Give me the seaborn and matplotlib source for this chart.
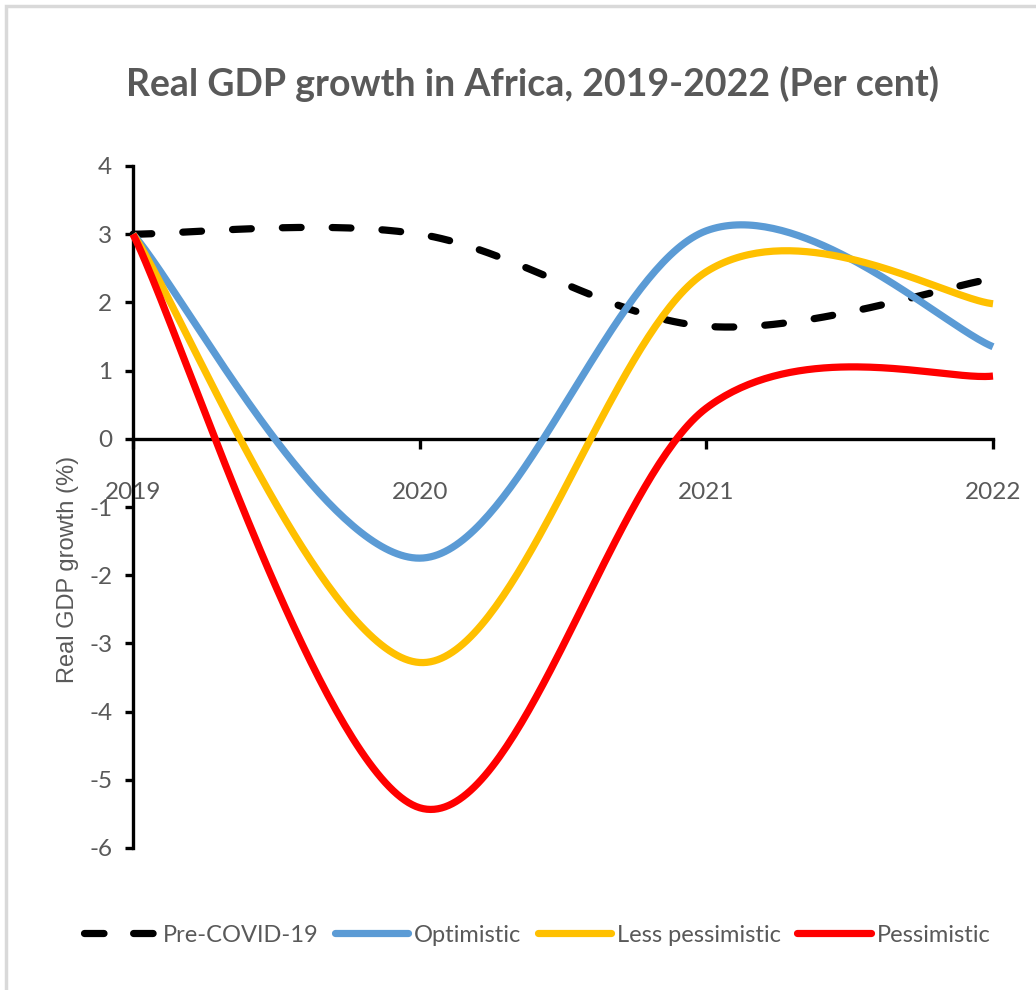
import numpy as np
import pandas as pd
import matplotlib
matplotlib.use("Agg")
import matplotlib.pyplot as plt
from matplotlib.lines import Line2D
from matplotlib.patches import Rectangle
import seaborn as sns

# Data: real GDP growth in Africa (per cent)
years = [2019, 2020, 2021, 2022]
pre_covid = [3.0, 3.0, 1.65, 2.35]
optimistic = [3.0, -1.75, 3.05, 1.35]
less_pessimistic = [3.0, -3.28, 2.45, 1.98]
pessimistic = [3.0, -5.41, 0.45, 0.92]

series_names = ["Pre-COVID-19", "Optimistic", "Less pessimistic", "Pessimistic"]
series_values = [pre_covid, optimistic, less_pessimistic, pessimistic]
colors = ["#000000", "#5B9BD5", "#FFC000", "#FF0000"]
y_ticks = [-6, -5, -4, -3, -2, -1, 0, 1, 2, 3, 4]

TEXT = "#595959"
BODY = ["Lato", "DejaVu Sans"]


def smooth_curve(xs, ys, n=80):
    """Spreadsheet-style smoothed line: cubic Bezier segments whose control
    points follow the neighbouring points (Catmull-Rom tangents)."""
    pts = np.column_stack([xs, ys]).astype(float)
    out = []
    t = np.linspace(0, 1, n)[:, None]
    for i in range(len(pts) - 1):
        p0 = pts[i - 1] if i > 0 else pts[i]
        p1, p2 = pts[i], pts[i + 1]
        p3 = pts[i + 2] if i + 2 < len(pts) else pts[i + 1]
        c1 = p1 + (p2 - p0) / 6
        c2 = p2 - (p3 - p1) / 6
        seg = (1 - t) ** 3 * p1 + 3 * (1 - t) ** 2 * t * c1 + 3 * (1 - t) * t ** 2 * c2 + t ** 3 * p2
        out.append(seg if i == 0 else seg[1:])
    return np.vstack(out)


frames = []
for name, vals in zip(series_names, series_values):
    c = smooth_curve(years, vals)
    frames.append(pd.DataFrame({"year": c[:, 0], "growth": c[:, 1], "scenario": name}))
df = pd.concat(frames, ignore_index=True)

sns.set_style("white")
plt.rcParams["font.family"] = BODY

fig = plt.figure(figsize=(10.36, 9.9), dpi=100)
ax = fig.add_axes([133 / 1036, 1 - 848 / 990, (993 - 133) / 1036, (848 - 166) / 990])

palette = dict(zip(series_names, colors))
dashes = {n: "" for n in series_names}
dashes["Pre-COVID-19"] = (2.6, 4.3)

sns.lineplot(data=df, x="year", y="growth", hue="scenario", style="scenario",
             palette=palette, dashes=dashes, linewidth=5.2, sort=False,
             estimator=None, legend=False, ax=ax)
for ln in ax.get_lines():
    ln.set_dash_capstyle("round")
    ln.set_solid_capstyle("butt")
    ln.set_clip_on(False)

ax.set_xlim(years[0], years[-1])
ax.set_ylim(y_ticks[0], y_ticks[-1])
ax.set_xticks(years)
ax.set_xticklabels([str(y) for y in years])
ax.set_yticks(y_ticks)
ax.set_yticklabels([str(v) for v in y_ticks])

for side in ["top", "right"]:
    ax.spines[side].set_visible(False)
ax.spines["bottom"].set_position(("data", 0))
for side in ["left", "bottom"]:
    ax.spines[side].set_color("black")
    ax.spines[side].set_linewidth(2.4)
    ax.spines[side].set_zorder(1)

ax.tick_params(axis="y", direction="out", length=6, width=2.4, color="black",
               labelsize=17.5, labelcolor=TEXT, pad=9, left=True)
ax.tick_params(axis="x", direction="out", length=7, width=2.4, color="black",
               labelsize=17.5, labelcolor=TEXT, pad=24, bottom=True)

ax.set_xlabel("")
ax.set_ylabel("Real GDP growth (%)", fontsize=17, color=TEXT,
              family=["Liberation Sans", "DejaVu Sans"])
ax.yaxis.set_label_coords(-0.063, 0.408)

fig.text(533 / 1036, 1 - 84 / 990, "Real GDP growth in Africa, 2019-2022 (Per cent)",
         ha="center", va="center", fontsize=27, fontweight="bold", color=TEXT,
         family=BODY)

handles = [Line2D([], [], color=c, linewidth=5.2, solid_capstyle="round",
                  dash_capstyle="round") for c in colors]
handles[0].set_dashes((2.7, 4.1))
fig.legend(handles, series_names, loc="center", bbox_to_anchor=(537 / 1036, 1 - 935 / 990),
           ncol=4, frameon=False, handlelength=3.1, handletextpad=0.25,
           columnspacing=0.7, labelcolor=TEXT, prop={"family": BODY, "size": 17})

# light grey chart-area border
fig.patches.append(Rectangle((6 / 1036, -0.05), 1.1, 1 - 6 / 990 + 0.05,
                             transform=fig.transFigure, fill=False,
                             edgecolor="#d9d9d9", linewidth=2.5))

fig.savefig("out.png", dpi=100, facecolor="white")
